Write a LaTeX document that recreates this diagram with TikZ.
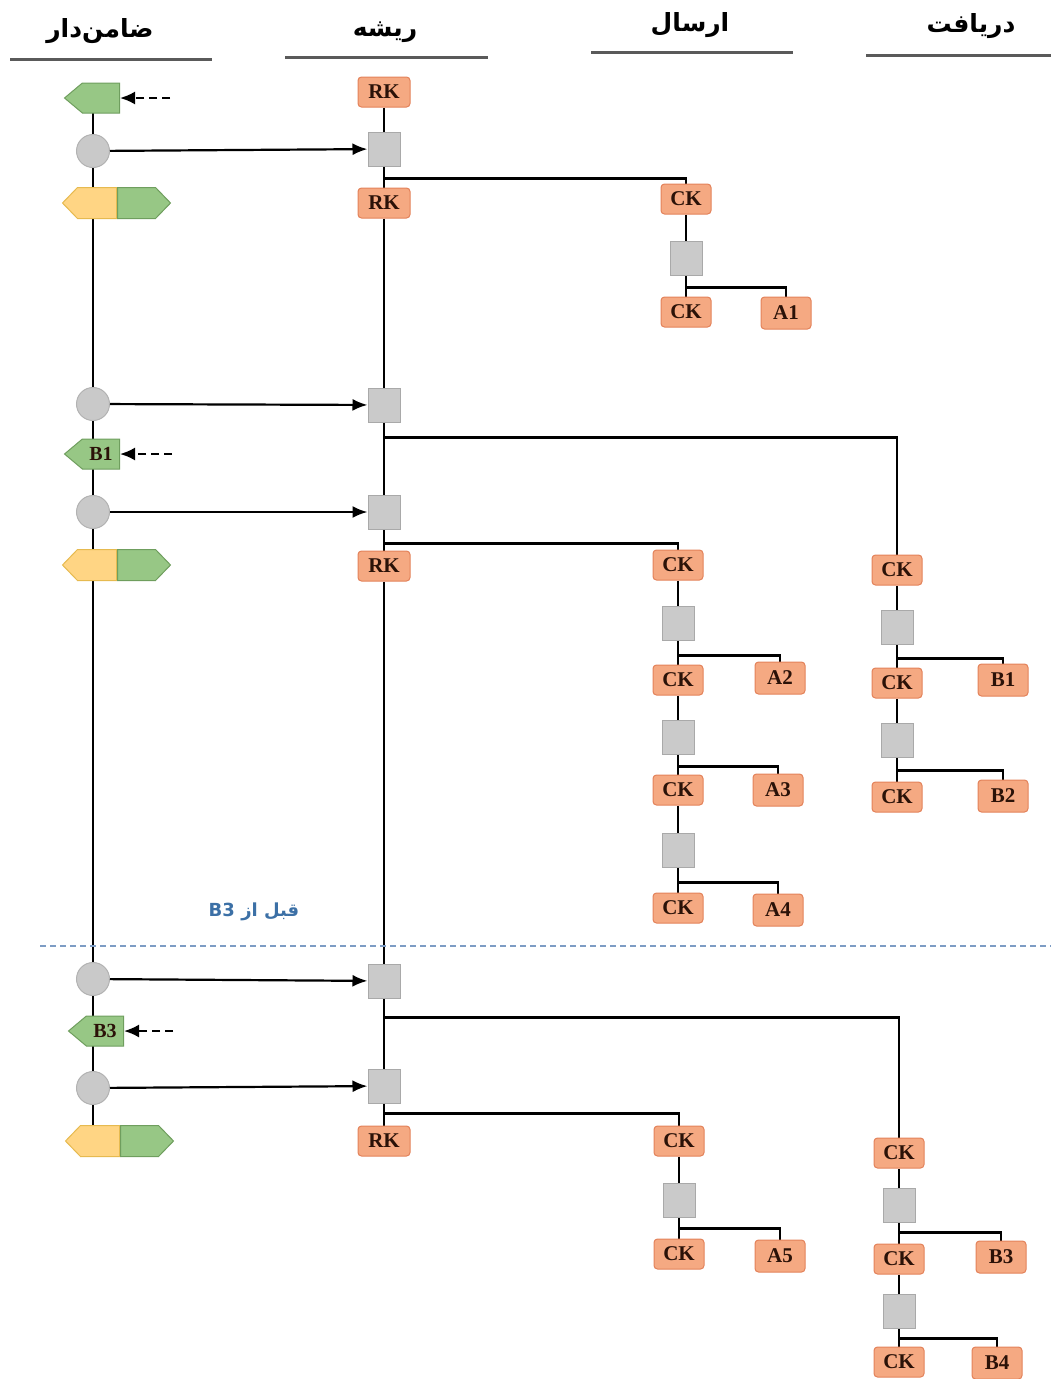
\documentclass[tikz,border=0pt]{standalone}
\usepackage{fontspec}
\setmainfont{Liberation Serif}
\newfontfamily\arabicfont[Script=Arabic]{DejaVu Sans}
\TeXXeTstate=1
\usetikzlibrary{shapes.symbols,arrows.meta}
\definecolor{keyfill}{HTML}{F5A982}
\definecolor{keyborder}{HTML}{E3825A}
\definecolor{keytext}{HTML}{2B1208}
\definecolor{sqfill}{HTML}{CACACA}
\definecolor{sqborder}{HTML}{A9A9A9}
\definecolor{dotfill}{HTML}{C9C9C9}
\definecolor{dotborder}{HTML}{B2B2B2}
\definecolor{gfill}{HTML}{97C785}
\definecolor{gborder}{HTML}{6F9E5E}
\definecolor{yfill}{HTML}{FFD584}
\definecolor{yborder}{HTML}{E6BA50}
\definecolor{sepline}{HTML}{7D9CC4}
\definecolor{labblue}{HTML}{3C70A6}
\definecolor{hdrline}{HTML}{5A5A5A}
\pgfdeclarelayer{background}
\pgfsetlayers{background,main}
\tikzset{
  keybox/.style={draw=keyborder, fill=keyfill, rounded corners=3.5pt, line width=1pt,
    minimum width=50pt, minimum height=30pt, inner sep=0pt, text=keytext,
    font=\bfseries\fontsize{21}{21}\selectfont},
  sqbox/.style={draw=sqborder, fill=sqfill, line width=1pt, minimum width=32pt,
    minimum height=34pt, inner sep=0pt},
  dotnode/.style={circle, draw=dotborder, fill=dotfill, line width=1pt,
    minimum size=33pt, inner sep=0pt},
  gleft/.style={signal, signal to=west, signal pointer angle=80, draw=gborder, fill=gfill,
    line width=1pt, minimum width=55pt, minimum height=30pt, inner sep=0pt, anchor=east,
    text=keytext, font=\bfseries\fontsize{20}{20}\selectfont},
  yleft/.style={signal, signal to=west, signal pointer angle=92, draw=yborder, fill=yfill,
    line width=1pt, minimum width=54pt, minimum height=31pt, inner sep=0pt, anchor=east},
  gright/.style={signal, signal to=east, signal pointer angle=92, draw=gborder, fill=gfill,
    line width=1pt, minimum width=53pt, minimum height=31pt, inner sep=0pt, anchor=west},
  conn/.style={draw=black, line width=2.2pt},
  push/.style={draw=black, line width=2.2pt, -{Latex[length=15pt,width=12pt]}},
  hint/.style={draw=black, line width=2.2pt, dash pattern=on 8pt off 5pt, -{Latex[length=15pt,width=13pt]}},
  hdr/.style={font=\arabicfont\bfseries\fontsize{25}{25}\selectfont, inner sep=0pt},
  hdrrule/.style={draw=hdrline, line width=3pt}
}
\begin{document}
\begin{tikzpicture}[x=1pt,y=-1pt]
\useasboundingbox (0,0) rectangle (1051,1379);

% headers
\node[hdr] (h1) at (100,31) {\beginR ضامن^^^^200cدار\endR};
\node[hdr] (h2) at (385,32) {\beginR ریشه\endR};
\node[hdr] (h3) at (690,25) {\beginR ارسال\endR};
\node[hdr] (h4) at (971,26) {\beginR دریافت\endR};
\coordinate (u1a) at (10,59); \coordinate (u1b) at (212,59);
\coordinate (u2a) at (285,57); \coordinate (u2b) at (488,57);
\coordinate (u3a) at (591,52); \coordinate (u3b) at (793,52);
\coordinate (u4a) at (866,55); \coordinate (u4b) at (1051,55);
\draw[hdrrule] (u1a) -- (u1b);
\draw[hdrrule] (u2a) -- (u2b);
\draw[hdrrule] (u3a) -- (u3b);
\draw[hdrrule] (u4a) -- (u4b);

% ratchet column
\node[gleft] (p1) at (120,98) {};
\node[dotnode] (c1) at (93,151) {};
\node[yleft] (y1) at (117,203) {};
\node[gright] (g1) at (117,203) {};
\node[dotnode] (c2) at (93,404) {};
\node[gleft] (p2) at (120,454) {B1};
\node[dotnode] (c3) at (93,512) {};
\node[yleft] (y2) at (117,565) {};
\node[gright] (g2) at (117,565) {};
\node[dotnode] (c4) at (93,979) {};
\node[gleft] (p3) at (124,1031) {B3};
\node[dotnode] (c5) at (93,1088) {};
\node[yleft] (y3) at (120,1141) {};
\node[gright] (g3) at (120,1141) {};

\coordinate (d1) at (170,98);
\coordinate (d2) at (172,454);
\coordinate (d3) at (173,1031);

% root column
\node[keybox, minimum width=52pt] (rk1) at (384,92) {RK};
\node[sqbox] (s1) at (384,149) {};
\node[keybox, minimum width=52pt] (rk2) at (384,203) {RK};
\node[sqbox] (s2) at (384,405) {};
\node[sqbox] (s3) at (384,512) {};
\node[keybox, minimum width=52pt] (rk3) at (384,566) {RK};
\node[sqbox] (s4) at (384,981) {};
\node[sqbox] (s5) at (384,1086) {};
\node[keybox, minimum width=52pt] (rk4) at (384,1141) {RK};

% sending chain 1
\node[keybox] (ck1) at (686,199) {CK};
\node[sqbox] (t1) at (686,258) {};
\node[keybox] (ck2) at (686,312) {CK};
\node[keybox, minimum height=32pt] (a1) at (786,313) {A1};

% sending chain 2
\node[keybox] (ck3) at (678,565) {CK};
\node[sqbox] (t2) at (678,623) {};
\node[keybox] (ck4) at (678,680) {CK};
\node[keybox, minimum height=32pt] (a2) at (780,678) {A2};
\node[sqbox] (t3) at (678,737) {};
\node[keybox] (ck5) at (678,790) {CK};
\node[keybox, minimum height=32pt] (a3) at (778,790) {A3};
\node[sqbox] (t4) at (678,850) {};
\node[keybox] (ck6) at (678,908) {CK};
\node[keybox, minimum height=32pt] (a4) at (778,910) {A4};

% receiving chain 1
\node[keybox] (rc1) at (897,570) {CK};
\node[sqbox] (r1) at (897,627) {};
\node[keybox] (rc2) at (897,683) {CK};
\node[keybox, minimum height=32pt] (b1) at (1003,680) {B1};
\node[sqbox] (r2) at (897,740) {};
\node[keybox] (rc3) at (897,797) {CK};
\node[keybox, minimum height=32pt] (b2) at (1003,796) {B2};

% sending chain 3
\node[keybox] (ck7) at (679,1141) {CK};
\node[sqbox] (t5) at (679,1200) {};
\node[keybox] (ck8) at (679,1254) {CK};
\node[keybox, minimum height=32pt] (a5) at (780,1256) {A5};

% receiving chain 3
\node[keybox] (rc4) at (899,1153) {CK};
\node[sqbox] (r3) at (899,1205) {};
\node[keybox] (rc5) at (899,1259) {CK};
\node[keybox, minimum height=32pt] (b3) at (1001,1257) {B3};
\node[sqbox] (r4) at (899,1311) {};
\node[keybox] (rc6) at (899,1362) {CK};
\node[keybox, minimum height=32pt] (b4) at (997,1363) {B4};

% separator and label
\coordinate (sepa) at (40,946);
\coordinate (sepb) at (1051,946);
\node[font=\arabicfont\bfseries\fontsize{18}{18}\selectfont, text=labblue, inner sep=0pt] (lab) at (254,912) {\beginR قبل از \beginL B3\endL\endR};

\begin{pgfonlayer}{background}
  % ratchet vertical
  \draw[conn] (c1.center |- p1.center) -- (c1.center);
  \draw[conn] (c1.center) -- (c1.center |- y1.center);
  \draw[conn] (c1.center |- y1.center) -- (c2.center);
  \draw[conn] (c2.center) -- (c3.center);
  \draw[conn] (c3.center) -- (c3.center |- y2.center);
  \draw[conn] (c3.center |- y2.center) -- (c4.center);
  \draw[conn] (c4.center) -- (c5.center);
  \draw[conn] (c5.center) -- (c5.center |- y3.center);
  % root vertical
  \draw[conn] (rk1) -- (s1);
  \draw[conn] (s1) -- (rk2);
  \draw[conn] (rk2) -- (s2);
  \draw[conn] (s2) -- (s3);
  \draw[conn] (s3) -- (rk3);
  \draw[conn] (rk3) -- (s4);
  \draw[conn] (s4) -- (s5);
  \draw[conn] (s5) -- (rk4);
  % chains vertical
  \draw[conn] (ck1) -- (t1); \draw[conn] (t1) -- (ck2);
  \draw[conn] (ck3) -- (t2); \draw[conn] (t2) -- (ck4);
  \draw[conn] (ck4) -- (t3); \draw[conn] (t3) -- (ck5);
  \draw[conn] (ck5) -- (t4); \draw[conn] (t4) -- (ck6);
  \draw[conn] (rc1) -- (r1); \draw[conn] (r1) -- (rc2);
  \draw[conn] (rc2) -- (r2); \draw[conn] (r2) -- (rc3);
  \draw[conn] (ck7) -- (t5); \draw[conn] (t5) -- (ck8);
  \draw[conn] (rc4) -- (r3); \draw[conn] (r3) -- (rc5);
  \draw[conn] (rc5) -- (r4); \draw[conn] (r4) -- (rc6);
  % branches
  \draw[conn] (s1.south) ++(0,12) -| (ck1.north);
  \draw[conn] (s2.south) ++(0,15) -| (rc1.north);
  \draw[conn] (s3.south) ++(0,14) -| (ck3.north);
  \draw[conn] (s4.south) ++(0,19) -| (rc4.north);
  \draw[conn] (s5.south) ++(0,10) -| (ck7.north);
  \draw[conn] (t1.south) ++(0,12) -| (a1.north);
  \draw[conn] (t2.south) ++(0,15) -| (a2.north);
  \draw[conn] (t3.south) ++(0,12) -| (a3.north);
  \draw[conn] (t4.south) ++(0,15) -| (a4.north);
  \draw[conn] (r1.south) ++(0,14) -| (b1.north);
  \draw[conn] (r2.south) ++(0,13) -| (b2.north);
  \draw[conn] (t5.south) ++(0,11) -| (a5.north);
  \draw[conn] (r3.south) ++(0,10) -| (b3.north);
  \draw[conn] (r4.south) ++(0,10) -| (b4.north);
\end{pgfonlayer}

% separator (over vertical lines)
\draw[draw=sepline, line width=1.8pt, dash pattern=on 6pt off 4pt] (sepa) -- (sepb);

% arrows
\draw[push] (c1) -- (s1);
\draw[push] (c2) -- (s2);
\draw[push] (c3) -- (s3);
\draw[push] (c4) -- (s4);
\draw[push] (c5) -- (s5);
\draw[hint] (d1) -- (p1.east);
\draw[hint] (d2) -- (p2.east);
\draw[hint] (d3) -- (p3.east);
\end{tikzpicture}
\end{document}
